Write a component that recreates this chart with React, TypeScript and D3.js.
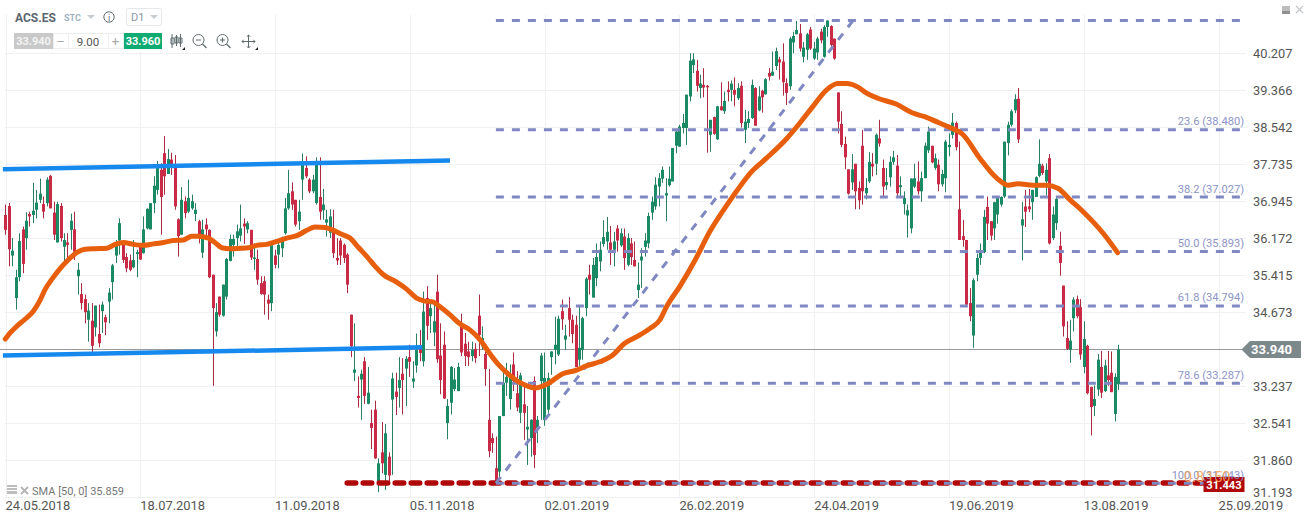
import React from "react";
import * as d3 from "d3";

// open, high, low, close
type Bar = [number, number, number, number];

const barsMay2018: Bar[] = [
[36.65,36.87,36.24,36.34],[36.84,36.90,35.59,35.94],[35.81,36.17,35.59,35.91],[34.95,35.52,34.72,35.37],[35.37,36.27,35.29,36.11],[36.35,36.41,35.45,35.64],[36.17,36.71,35.93,36.53],[36.67,36.72,36.41,36.62],[36.65,37.33,36.48,36.74],[36.76,37.18,36.58,36.91],
[36.97,37.42,36.90,37.10],[36.88,37.04,36.58,36.72],[36.90,37.45,36.83,37.40],[37.48,37.50,36.79,36.79],[36.70,36.93,36.13,36.24],[36.08,36.93,36.08,36.88],[36.84,36.90,36.10,36.17],[35.99,36.27,35.69,36.13],[36.08,36.27,35.76,36.03],[36.34,36.68,35.93,36.53],
[36.35,36.72,35.72,35.89],[35.39,35.66,35.02,35.52],[35.03,35.25,34.72,34.85],[34.93,35.02,34.45,34.67],[34.52,34.85,34.09,34.70],[34.50,34.85,33.88,34.01],[34.37,34.80,34.19,34.80],[34.24,34.82,33.98,34.06],[34.69,34.88,34.26,34.82],[34.57,34.62,34.22,34.47],
[34.88,35.15,34.45,35.06],[35.27,35.64,34.92,35.61],[35.81,36.13,35.66,36.05],[36.12,36.58,35.83,36.48],[36.10,36.10,35.66,35.72],[35.78,35.86,35.47,35.55],[35.71,35.83,35.49,35.52],[35.57,36.13,35.55,35.72],[35.84,35.93,35.37,35.88],[36.03,36.03,35.72,35.73],
[35.86,36.62,35.85,36.35],[36.37,36.79,36.35,36.78],[36.35,36.90,36.35,36.90],[36.90,37.47,36.69,37.27],[37.18,37.80,37.08,37.65],[37.61,37.75,36.24,37.03],[37.97,38.34,37.08,37.47],[37.52,38.06,37.52,37.84],[37.83,37.98,37.50,37.72],[37.72,37.93,36.76,36.83],
[36.56,36.58,35.79,36.21],[36.24,37.24,36.24,36.97],[36.94,37.04,36.58,36.69],[36.72,37.40,36.69,37.01],[36.79,37.08,36.76,36.94],[36.67,36.90,36.52,36.76],[36.52,36.55,36.06,36.21],[35.87,36.55,35.76,36.35],[36.45,36.58,36.17,36.35],[36.34,36.35,35.35,35.37],
];

const barsAug2018: Bar[] = [
[35.42,35.42,33.24,34.75],[34.29,34.85,34.19,34.67],[34.98,34.98,34.58,34.62],[34.60,35.22,34.58,35.22],[34.98,35.76,34.92,35.74],[35.70,36.24,35.69,36.15],[36.03,36.24,35.79,36.15],[36.17,36.45,35.96,36.31],[36.22,36.87,36.10,36.37],[36.47,36.58,36.05,36.41],
[36.35,36.52,36.27,36.48],[36.34,36.34,35.72,35.77],[35.74,36.06,35.52,35.77],[35.74,35.93,35.22,35.32],[35.25,35.39,35.02,35.03],[35.29,35.39,34.62,35.02],[34.92,35.02,34.52,34.84],[34.85,36.03,34.69,36.03],[35.81,35.93,35.55,35.62],[35.83,36.10,35.55,36.03],
[35.96,36.20,35.78,36.13],[36.27,37.01,36.24,36.79],[36.79,37.61,36.76,37.11],[37.15,37.34,36.76,36.87],[36.97,36.97,36.41,36.45],[36.52,36.97,36.34,36.72],[37.40,37.96,36.97,37.79],[37.65,37.90,37.43,37.47],[37.40,37.43,37.11,37.15],[37.15,37.50,37.11,37.40],
[36.90,37.88,36.87,37.79],[37.03,37.88,36.55,36.72],[36.75,37.20,36.55,36.87],[36.49,36.76,36.20,36.56],[36.28,36.77,36.17,36.62],[36.35,36.76,35.76,35.86],[35.76,36.17,35.62,35.71],[36.12,36.17,35.62,35.81],[36.03,36.06,35.66,35.76],[35.83,35.86,35.05,35.22],
[34.62,34.62,33.79,34.00],[33.49,34.45,33.33,33.55],[33.05,33.42,32.83,33.01],[33.36,33.55,32.60,33.47],[33.71,33.79,32.90,33.05],[32.90,33.60,32.89,33.11],[32.54,32.79,32.06,32.45],[32.79,32.96,31.88,31.89],[31.47,31.89,31.28,31.80],[32.00,32.56,31.62,31.80],
[31.59,32.52,31.32,32.35],[31.92,32.00,31.47,31.58],[32.98,33.49,31.59,33.38],[33.13,33.49,32.69,33.03],[33.20,33.79,32.83,33.35],[33.47,33.77,32.70,33.35],[33.57,33.81,32.86,33.76],[33.79,34.03,33.41,33.70],[33.32,33.71,33.20,33.38],[33.63,34.25,33.49,33.93],
[33.97,34.32,33.71,33.87],[33.71,35.08,33.61,34.68],[34.95,35.19,34.12,34.40],[34.59,34.85,34.26,34.75],[34.27,34.85,34.00,34.49],
];

const barsNov2018: Bar[] = [
[35.08,35.42,33.68,33.75],[33.82,34.45,33.08,33.35],[34.03,34.29,32.99,33.00],[32.54,32.99,32.24,32.86],[32.92,33.62,32.70,33.60],[33.18,33.58,33.14,33.36],[33.14,33.68,33.14,33.60],[34.39,34.64,33.81,33.88],[34.05,34.26,33.62,33.81],[33.90,34.09,33.62,33.79],
[33.81,34.09,33.71,33.93],[33.95,34.06,33.68,33.77],[34.60,35.02,33.81,34.22],[34.00,34.39,33.93,34.16],[33.85,33.90,33.24,33.56],[32.60,33.56,31.91,32.02],[32.26,32.35,31.99,32.17],[31.71,32.29,31.47,31.47],[31.65,32.67,31.47,32.67],[32.67,33.49,32.67,33.30],
[33.30,33.68,33.05,33.41],[32.99,33.65,32.79,33.44],[33.65,33.88,33.14,33.33],[33.10,33.52,32.76,32.83],[32.73,33.49,32.54,33.44],[32.89,33.31,32.23,32.73],[32.42,32.86,31.77,32.47],[32.26,32.61,31.92,32.60],[33.33,33.42,31.71,31.95],[32.45,32.67,32.17,32.60],
[33.33,33.87,32.60,33.82],[32.60,33.88,32.49,33.39],[32.79,33.49,32.73,33.39],[33.79,33.90,33.45,33.90],[33.93,34.58,33.65,34.03],[33.84,34.60,33.81,34.54],[34.69,34.92,34.32,34.53],[34.13,34.42,33.93,34.21],[34.75,34.97,34.19,34.52],[34.52,34.62,34.06,34.24],
[34.42,34.60,33.60,33.60],[33.74,34.78,33.62,33.97],[33.93,34.58,33.74,34.55],[34.75,35.37,34.59,35.34],[35.42,35.62,35.02,35.32],[34.96,35.76,34.96,35.62],[35.35,36.06,35.19,35.78],[35.69,36.10,35.49,35.93],[36.05,36.54,35.99,36.19],[36.10,36.61,35.93,36.30],
[36.08,36.42,35.62,35.93],[35.93,36.30,35.59,36.10],[36.37,36.44,35.89,36.12],[36.02,36.37,35.99,36.27],[36.20,36.37,35.52,35.76],[35.62,36.27,35.59,36.17],[36.06,36.17,35.62,35.78],[35.72,36.10,35.59,35.59],[35.11,35.67,34.95,35.22],[35.71,35.96,35.15,35.79],
[35.99,36.27,35.79,36.12],[36.06,36.70,35.96,36.63],
];

const barsFeb2019: Bar[] = [
[36.70,37.04,36.55,36.93],[36.83,37.45,36.76,37.29],[37.25,37.54,36.83,37.43],[37.42,37.68,37.33,37.61],[37.06,37.43,36.52,37.11],[37.28,37.68,37.25,37.42],[37.36,38.08,37.36,38.08],[38.13,38.48,37.97,38.44],[38.11,38.59,38.11,38.55],[38.52,38.83,38.40,38.63],
[38.52,39.26,38.15,39.26],[39.22,40.20,39.11,40.03],[39.93,40.20,39.75,40.06],[39.80,40.05,39.33,39.46],[39.41,39.71,39.18,39.51],[39.48,39.86,39.20,39.42],[39.46,39.48,37.98,39.43],[38.37,38.70,38.00,38.70],[38.76,38.77,38.37,38.39],[38.27,39.01,38.26,39.00],
[39.00,39.54,38.91,38.91],[38.89,39.33,38.83,39.12],[39.37,39.56,39.11,39.32],[39.37,39.58,39.11,39.51],[39.37,39.65,39.00,39.26],[39.18,39.52,39.14,39.41],[39.46,39.56,38.53,38.63],[38.48,38.92,38.19,38.66],[38.63,38.89,38.52,38.72],[38.74,39.60,38.72,39.48],
[39.41,39.43,38.57,38.57],[38.91,39.45,38.89,39.22],[39.35,39.37,38.86,39.20],[39.27,39.63,39.26,39.61],[39.75,39.86,39.58,39.67],[39.69,40.24,39.68,39.78],[39.91,40.33,39.82,40.25],[40.06,40.12,39.60,39.99],[40.01,40.43,39.24,39.54],[39.52,39.63,39.03,39.30],
[39.45,40.58,39.37,40.54],[40.45,40.70,40.20,40.60],[40.64,40.95,40.64,40.74],[40.66,40.88,40.24,40.31],[40.12,40.46,39.99,40.33],[40.28,40.67,40.05,40.64],[40.75,40.81,40.28,40.31],[40.08,40.46,40.05,40.31],[40.22,40.58,40.05,40.54],[40.70,40.77,40.43,40.50],
[40.12,40.85,40.10,40.81],[40.81,40.97,40.58,40.96],[40.83,40.85,40.35,40.39],[40.54,40.54,40.05,40.08],
];

const barsMay2019: Bar[] = [
[39.31,39.31,38.40,38.66],[38.61,38.89,38.10,38.15],[38.17,38.33,37.62,37.88],[37.62,37.62,37.08,37.10],[37.34,37.95,37.18,37.62],[37.74,37.74,36.77,37.15],[37.22,37.36,36.77,36.96],[38.13,38.48,36.87,37.15],[37.11,37.43,36.98,37.22],[37.36,37.99,37.33,37.78],
[37.74,37.97,37.47,37.68],[37.74,38.40,37.50,38.37],[38.29,38.70,38.11,38.18],[37.65,37.83,37.04,37.25],[37.28,37.65,37.18,37.35],[37.45,37.90,37.25,37.78],[37.78,38.02,37.72,37.88],[37.70,37.93,37.01,37.11],[37.24,37.47,37.04,37.28],[36.88,37.15,36.66,37.01],
[36.64,36.87,36.18,36.75],[36.37,37.43,36.27,37.42],[37.25,37.74,37.22,37.43],[37.36,37.79,37.08,37.15],[37.15,37.57,36.93,37.43],[37.43,38.20,37.43,38.13],[38.03,38.55,37.97,38.44],[38.13,38.13,37.75,37.77],[37.65,37.96,37.61,37.86],[37.72,37.83,37.15,37.30],
[37.30,37.61,37.25,37.52],[37.43,38.26,37.13,38.22],[38.10,38.40,37.90,38.15],[38.37,38.85,38.29,38.64],[38.63,38.66,38.03,38.10],[36.77,38.22,36.13,36.13],[36.21,36.55,35.99,36.13],[36.13,36.13,34.78,34.82],[34.85,35.15,34.49,34.59],[34.21,35.35,33.97,35.31],
[35.42,35.85,35.29,35.76],[35.76,36.06,35.62,35.89],[35.88,36.76,35.86,36.61],[36.82,37.04,36.13,36.47],[36.52,36.52,36.12,36.22],[36.37,36.93,36.13,36.92],[36.66,37.03,36.47,37.01],[36.87,37.04,36.83,37.03],[37.04,38.22,37.01,38.22],[38.19,38.66,37.92,38.59],
[38.59,38.93,38.55,38.89],[38.91,39.27,38.85,39.16],[39.17,39.41,38.19,38.27],
];

const barsJul2019: Bar[] = [
[36.43,36.92,35.71,36.56],[36.83,37.18,36.40,36.72],[36.83,37.20,36.71,36.77],[36.92,37.18,36.55,37.18],[37.03,37.47,37.03,37.45],[37.48,38.27,37.45,37.74],[37.70,37.74,37.50,37.54],[37.36,37.75,37.06,37.61],[37.86,37.95,36.04,36.06],[36.17,36.83,36.13,36.66],
[36.48,37.03,36.34,36.99],[36.01,36.30,35.40,35.66],[35.20,35.20,34.19,34.39],[34.16,34.49,33.93,33.95],[33.93,34.52,33.68,34.11],[34.55,34.97,34.29,34.92],[34.93,35.00,34.55,34.59],[34.77,34.93,33.74,33.84],[33.60,34.49,33.48,34.14],[34.01,34.03,33.08,33.10],
[33.22,33.22,32.31,32.84],[32.86,33.25,32.67,32.99],[33.17,33.85,33.05,33.74],[33.60,33.91,33.01,33.11],[33.14,33.74,33.12,33.63],[33.44,33.91,33.24,33.35],[33.49,33.90,33.12,33.12],[32.71,33.48,32.57,33.41],[33.27,34.03,33.16,33.94],
];

const bars: Bar[] = [...barsMay2018, ...barsAug2018, ...barsNov2018, ...barsFeb2019, ...barsMay2019, ...barsJul2019];

const smaIdx = [0,1.4,3.3,5.7,8.1,10,11.5,13.4,15.8,18.2,20.9,23.1,26,29.4,31.8,34.2,37.1,40,42.9,45.8,48.7,51.5,54,55.9,58.8,60.7,62.7,65.1,68,70.4,72.8,75.7,78.6,81.5,84.4,87.3,89.7,92.6,95,97.4,99.8,102.2,104.7,107.1,109.5,113.3,116.2,119.1,121.5,124,125.4,128.7,131.6,134.5,137.4,139.8,142.7,146,149.9,153.3,157,161,165.3,168.1,172,175.4,179.2,183,186.5,189.4,191.3,195.2,199.6,203.9,209.2,211.6,216,220.3,226.2,230,233.4,237.8,241,243.5,246.8,249.2,252.5,257.8,262.6,266,269.4,272.7,277.1,281.9,286.8,290,293,297.3,301.2,304.6,308,311.8,317.6,321.8];
const smaVal = [34.14,34.26,34.39,34.53,34.69,34.90,35.12,35.32,35.54,35.72,35.88,35.94,35.95,35.96,36.04,36.08,36.04,36.02,36.05,36.08,36.12,36.13,36.21,36.21,36.17,36.08,35.97,35.95,35.96,35.97,36.02,36.04,36.10,36.17,36.22,36.33,36.40,36.39,36.33,36.25,36.17,35.98,35.79,35.59,35.42,35.27,35.13,34.95,34.89,34.87,34.80,34.62,34.44,34.32,34.13,33.90,33.65,33.44,33.27,33.20,33.28,33.46,33.54,33.62,33.70,33.81,34.06,34.20,34.35,34.52,34.78,35.19,35.72,36.31,36.90,37.15,37.57,37.86,38.29,38.63,38.96,39.37,39.51,39.51,39.43,39.30,39.18,39.05,38.85,38.77,38.66,38.55,38.37,37.86,37.43,37.28,37.31,37.28,37.28,37.21,36.97,36.72,36.27,35.87];

const yTicks = [40.207,39.366,38.542,37.735,36.945,36.172,35.415,34.673,33.237,32.541,31.860,31.193];
const dateTicks = ["24.05.2018","18.07.2018","11.09.2018","05.11.2018","02.01.2019","26.02.2019","24.04.2019","19.06.2019","13.08.2019","25.09.2019"];

const fibPrices = [40.96,38.48,37.027,35.893,34.794,33.287,31.44];
const fibLabels = ["","23.6 (38.480)","38.2 (37.027)","50.0 (35.893)","61.8 (34.794)","78.6 (33.287)","100.0 (31.443)"];
const fibStartIdx = 142;
const fibEndIdx = 357.6;
const fibTrendEndIdx = 245.4;

const lastPrice = 33.94;
const supportPrice = 31.443;
const supportIdx = [99, 357];
const upperChannelIdx = [-0.7, 128.75];
const upperChannelVal = [37.62, 37.81];
const lowerChannelIdx = [-0.7, 120.7];
const lowerChannelVal = [33.82, 33.98];

const FONT = "Roboto, sans-serif";
const W = 1311, H = 521;
const PLOT_RIGHT = 1246, PLOT_BOTTOM = 497;

const x = d3.scaleLinear().domain([0,125,186,240,293,322]).range([5.3,437,648.3,834.3,1018.3,1118.3]);
const y = d3.scaleLog().domain([31.193,40.207]).range([PLOT_BOTTOM,53]);
const gridX = d3.scalePoint<string>().domain(dateTicks).range([5.5,1218.5]);
const smaLine = d3.line<number>().x((_, i) => x(smaIdx[i])).y(d => y(d)).curve(d3.curveMonotoneX);

const UP = "#1a8a64", UP_WICK = "#2a7f62", DOWN = "#c92a45", DOWN_WICK = "#ab2c42";
const FIB = "#8088c2", BLUE = "#1689ee", ORANGE = "#e75e0c", DARKRED = "#b00808";

function Candles() {
  return <g>{bars.map((b, i) => {
    const [o, h, l, c] = b;
    const px = Math.round(x(i));
    const up = c >= o;
    const top = y(Math.max(o, c)), bot = y(Math.min(o, c));
    return <g key={i}>
      <rect x={px} y={y(h)} width={1} height={Math.max(1, y(l) - y(h))} fill={up ? UP_WICK : DOWN_WICK} />
      <rect x={px - 1} y={top} width={3} height={Math.max(1.5, bot - top)} fill={up ? UP : DOWN} />
    </g>;
  })}</g>;
}

function Toolbar() {
  const ic = "#5f6b6d";
  return <g fontFamily={FONT}>
    <rect x={10} y={8} width={156} height={44} fill="#fff" />
    <text x={15} y={21.5} fontSize={12} fontWeight={700} fill="#5b6670">ACS.ES</text>
    <text x={64} y={20.5} fontSize={9} fontWeight={700} fill="#9fb0c0">STC</text>
    <path d="M87 15h8l-4 4z" fill="#c6ccd0" />
    <circle cx={109} cy={17} r={5.2} fill="none" stroke={ic} strokeWidth={1} />
    <text x={109} y={20.5} fontSize={9} textAnchor="middle" fill={ic}>i</text>
    <rect x={126.5} y={8.5} width={35} height={17} rx={2} fill="#fff" stroke="#e6e8ea" />
    <text x={131} y={21} fontSize={11} fill="#8b98a5">D1</text>
    <path d="M150 15h8l-4 4z" fill="#c6ccd0" />
    <rect x={14} y={33} width={39} height={16} fill="#c9c9c9" />
    <text x={33.5} y={44.5} fontSize={11} fontWeight={700} textAnchor="middle" fill="#f3f3f3">33.940</text>
    <rect x={53.5} y={33.5} width={70} height={15} fill="#fff" stroke="#eceef0" />
    <line x1={68.5} x2={68.5} y1={33} y2={49} stroke="#eceef0" />
    <line x1={108.5} x2={108.5} y1={33} y2={49} stroke="#eceef0" />
    <text x={60.5} y={46} fontSize={13} textAnchor="middle" fill="#aaa">–</text>
    <text x={88} y={45.5} fontSize={11.5} textAnchor="middle" fill="#555">9.00</text>
    <text x={115.5} y={46} fontSize={13} textAnchor="middle" fill="#aaa">+</text>
    <rect x={124} y={33} width={38} height={16} fill="#10ab72" />
    <text x={143} y={44.5} fontSize={11} fontWeight={700} textAnchor="middle" fill="#fff">33.960</text>
    <g stroke={ic} strokeWidth={1} fill="none">
      <path d="M172 34v14M172.5 38h-1.5v6h3v-6zM176.5 35v11M175 37h3v6h-3zM180.5 34v13M179 38h3v5h-3z" />
      <circle cx={198.5} cy={40} r={5.5} /><path d="M196 40h5M202.5 44l4 4" strokeWidth={1.2} />
      <circle cx={222.5} cy={40} r={5.5} /><path d="M220 40h5M222.5 37.5v5M226.5 44l4 4" strokeWidth={1.2} />
      <path d="M248.5 35v13M242 41.5h13M246.8 36.7l1.7-1.7 1.7 1.7M246.8 46.3l1.7 1.7 1.7-1.7M243.7 39.8l-1.7 1.7 1.7 1.7M253.3 39.8l1.7 1.7-1.7 1.7" />
    </g>
    <path d="M185 47v3h-3zM258 47v3h-3z" fill="#222" />
    <rect x={1282} y={6} width={8} height={8} fill="#bdbdbd" />
    <rect x={1282} y={11} width={8} height={3} fill="#8f8f8f" />
    <path d="M1296 6l7 7M1303 6l-7 7" stroke="#c4c8ca" strokeWidth={1.2} />
  </g>;
}

export default function App() {
  const fibStart = x(fibStartIdx), fibEnd = x(fibEndIdx);
  const tagY = y(lastPrice);
  return (
    <svg width={W} height={H} style={{ position: "absolute", left: 0, top: 0, background: "#fff" }}>
      {/* grid */}
      <g stroke="#eef0f2" strokeWidth={1}>
        {dateTicks.map(d => <line key={d} x1={Math.round(gridX(d)!) + .5} x2={Math.round(gridX(d)!) + .5} y1={15} y2={PLOT_BOTTOM} />)}
        {[...yTicks, lastPrice].map(t => <line key={t} x1={5} x2={PLOT_RIGHT} y1={Math.round(y(t)) + .5} y2={Math.round(y(t)) + .5} />)}
      </g>
      <Toolbar />
      {/* last price */}
      <line x1={0} x2={1242} y1={Math.round(tagY) + .5} y2={Math.round(tagY) + .5} stroke="#9a9a9a" strokeWidth={1} />
      <Candles />
      {/* support */}
      <line x1={x(supportIdx[0])} x2={x(supportIdx[1])} y1={y(supportPrice)} y2={y(supportPrice)} stroke={DARKRED} strokeWidth={5.5} strokeLinecap="round" strokeDasharray="8.5 7.5" />
      {/* fibonacci */}
      <g stroke={FIB} strokeWidth={3} strokeDasharray="8 8">
        {fibPrices.map(p => <line key={p} x1={fibStart} x2={fibEnd} y1={y(p)} y2={y(p)} />)}
        <line x1={fibStart} y1={y(fibPrices[6])} x2={x(fibTrendEndIdx)} y2={y(fibPrices[0])} />
      </g>
      {/* channel */}
      <line x1={x(upperChannelIdx[0])} x2={x(upperChannelIdx[1])} y1={y(upperChannelVal[0])} y2={y(upperChannelVal[1])} stroke={BLUE} strokeWidth={4.5} />
      <line x1={x(lowerChannelIdx[0])} x2={x(lowerChannelIdx[1])} y1={y(lowerChannelVal[0])} y2={y(lowerChannelVal[1])} stroke={BLUE} strokeWidth={4.5} />
      {/* SMA */}
      <path d={smaLine(smaVal) || ""} fill="none" stroke={ORANGE} strokeWidth={5} strokeLinejoin="round" strokeLinecap="round" />
      {/* price tags */}
      <rect x={1203.5} y={477} width={41} height={15} fill={DARKRED} />
      <g fontFamily={FONT}>
        {fibLabels.map((l, i) => l ? <text key={l} x={1244} y={y(fibPrices[i]) - 4.5} fontSize={11.1} textAnchor="end" fill="#8d94c8">{l}</text> : null)}
        <text x={1184} y={481.5} fontSize={14.5} fill="#f3a55c" fillOpacity={0.9}>0.8</text>
        <text x={1206} y={481.5} fontSize={14.5} fill="#f3a55c" fillOpacity={0.9}>150</text>
        <text x={1224} y={489} fontSize={11.2} fontWeight={700} textAnchor="middle" fill="#fff">31.443</text>
        {yTicks.map(t => <text key={t} x={1253} y={Math.min(y(t), 492) + 4.7} fontSize={12.8} fill="#555">{t.toFixed(3)}</text>)}
        {dateTicks.map(d => <text key={d} x={gridX(d)!} y={510} fontSize={12.9} fill="#555">{d}</text>)}
        <path d={`M1241.5 ${tagY}L1250 ${tagY - 8.5}H1301V${tagY + 8.5}H1250Z`} fill="#7d888b" />
        <text x={1251} y={tagY + 4.8} fontSize={13} fontWeight={700} fill="#fff">33.940</text>
        {/* indicator legend */}
        <rect x={7} y={485} width={10} height={9} fill="#bdbdbd" />
        <path d="M7 487.5h10M7 490.5h10" stroke="#fff" strokeWidth={1} />
        <path d="M21 487l7 7M28 487l-7 7" stroke="#b4b4b4" strokeWidth={1.8} />
        <text x={32} y={494.5} fontSize={11} fill="#777">SMA [50, 0] 35.859</text>
      </g>
    </svg>
  );
}
